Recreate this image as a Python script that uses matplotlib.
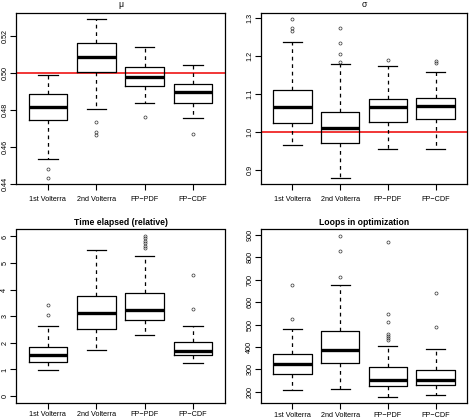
import matplotlib
matplotlib.use("Agg")
import matplotlib.pyplot as plt

plt.rcParams['font.family'] = ['Liberation Sans', 'DejaVu Sans']

methods = ["1st Volterra", "2nd Volterra", "FP\u2212PDF", "FP\u2212CDF"]

# --- mu ---
mu_whislo = [0.4533, 0.4804, 0.4836, 0.4755]
mu_q1 = [0.4744, 0.5005, 0.4928, 0.4836]
mu_med = [0.4813, 0.5088, 0.4980, 0.4894]
mu_q3 = [0.4885, 0.5160, 0.5034, 0.4937]
mu_whishi = [0.4987, 0.5290, 0.5139, 0.5041]
mu_out = [[0.4481, 0.4432], [0.4732, 0.4680, 0.4663], [0.4762], [0.4670]]
mu_ref = 0.50
mu_ticks = [0.44, 0.46, 0.48, 0.50, 0.52]
mu_ticklabels = ["0.44", "0.46", "0.48", "0.50", "0.52"]

# --- sigma ---
sd_whislo = [0.9643, 0.8797, 0.9556, 0.9556]
sd_q1 = [1.0235, 0.9712, 1.0261, 1.0349]
sd_med = [1.0662, 1.0096, 1.0645, 1.0671]
sd_q3 = [1.1098, 1.0514, 1.0863, 1.0889]
sd_whishi = [1.2353, 1.1786, 1.1725, 1.1577]
sd_out = [[1.296, 1.2736, 1.266], [1.2728, 1.2336, 1.2048, 1.1839], [1.1891], [1.1865, 1.1813]]
sd_ref = 1.0
sd_ticks = [0.9, 1.0, 1.1, 1.2, 1.3]
sd_ticklabels = ["0.9", "1.0", "1.1", "1.2", "1.3"]

# --- time elapsed (relative) ---
tm_whislo = [0.98, 1.72, 2.29, 1.24]
tm_q1 = [1.28, 2.54, 2.86, 1.53]
tm_med = [1.55, 3.13, 3.25, 1.70]
tm_q3 = [1.83, 3.78, 3.86, 2.03]
tm_whishi = [2.63, 5.49, 5.26, 2.63]
tm_out = [[3.43, 3.06], [], [6.02, 5.93, 5.84, 5.74, 5.64, 5.55], [4.54, 3.26]]
tm_ticks = [0, 1, 2, 3, 4, 5, 6]
tm_ticklabels = ["0", "1", "2", "3", "4", "5", "6"]

# --- loops in optimization ---
lp_whislo = [207.5, 212, 179, 188]
lp_q1 = [279.5, 330.5, 224, 230]
lp_med = [326, 389, 254, 254]
lp_q3 = [369.5, 471.5, 309.5, 296]
lp_whishi = [480.5, 678.5, 404, 390.5]
lp_out = [[677, 525.5], [896, 828.5, 714.5], [869, 548, 510.5, 459.5, 449, 440, 431], [639.5, 489.5]]
lp_ticks = [200, 300, 400, 500, 600, 700, 800, 900]
lp_ticklabels = ["200", "300", "400", "500", "600", "700", "800", "900"]

W, H = 470, 419
fig = plt.figure(figsize=(W / 100, H / 100), dpi=100)


def make_ax(l, r, t, b):
    return fig.add_axes([l / W, 1 - b / H, (r - l) / W, (b - t) / H])


def panel(ax, whislo, q1, med, q3, whishi, out, ticks, ticklabels, title, bold,
          ref=None, include_zero=False, xpad=4.5):
    stats = []
    for i in range(len(methods)):
        stats.append(dict(med=med[i], q1=q1[i], q3=q3[i], whislo=whislo[i],
                          whishi=whishi[i], fliers=out[i]))
    ax.bxp(stats, positions=[1, 2, 3, 4], widths=0.8, capwidths=0.4,
           boxprops=dict(color='black', lw=0.9),
           whiskerprops=dict(color='black', lw=0.9, linestyle=(0, (3, 3))),
           capprops=dict(color='black', lw=0.9),
           medianprops=dict(color='black', lw=2.4, solid_capstyle='butt'),
           flierprops=dict(marker='o', markersize=2.2, markerfacecolor='none',
                           markeredgecolor='#333333', markeredgewidth=0.5),
           manage_ticks=False)
    allv = list(whislo) + list(whishi) + [v for o in out for v in o]
    lo, hi = min(allv), max(allv)
    if include_zero:
        lo = 0
    ext = 0.04 * (hi - lo)
    ax.set_ylim(lo - ext, hi + ext)
    ax.set_xlim(0.5 - 0.16, 4.5 + 0.16)
    if ref is not None:
        ax.axhline(ref, color='#ee0000', lw=1.1, zorder=0.5)
    ax.set_xticks([1, 2, 3, 4])
    ax.set_xticklabels(methods)
    ax.set_yticks(ticks)
    ax.set_yticklabels(ticklabels, rotation=90, va='center')
    ax.tick_params(axis='x', length=4, width=0.8, pad=xpad, labelsize=5.2)
    ax.tick_params(axis='y', length=4, width=0.8, pad=1.5, labelsize=5.2)
    for s in ax.spines.values():
        s.set_linewidth(0.9)
    if bold:
        ax.set_title(title, fontsize=6.2, fontweight='bold', pad=3)
    else:
        ax.set_title(title, fontsize=6.2, pad=4)


ax1 = make_ax(16, 225, 13, 184)
panel(ax1, mu_whislo, mu_q1, mu_med, mu_q3, mu_whishi, mu_out, mu_ticks, mu_ticklabels,
      "\u03bc", False, ref=mu_ref)

ax2 = make_ax(261, 467, 13, 184)
panel(ax2, sd_whislo, sd_q1, sd_med, sd_q3, sd_whishi, sd_out, sd_ticks, sd_ticklabels,
      "\u03c3", False, ref=sd_ref)

ax3 = make_ax(16, 225, 229.5, 402.5)
panel(ax3, tm_whislo, tm_q1, tm_med, tm_q3, tm_whishi, tm_out, tm_ticks, tm_ticklabels,
      "Time elapsed (relative)", True, include_zero=True, xpad=2.2)

ax4 = make_ax(261, 467, 229.5, 403)
panel(ax4, lp_whislo, lp_q1, lp_med, lp_q3, lp_whishi, lp_out, lp_ticks, lp_ticklabels,
      "Loops in optimization", True, xpad=2.2)

fig.savefig("out.png", dpi=100)
